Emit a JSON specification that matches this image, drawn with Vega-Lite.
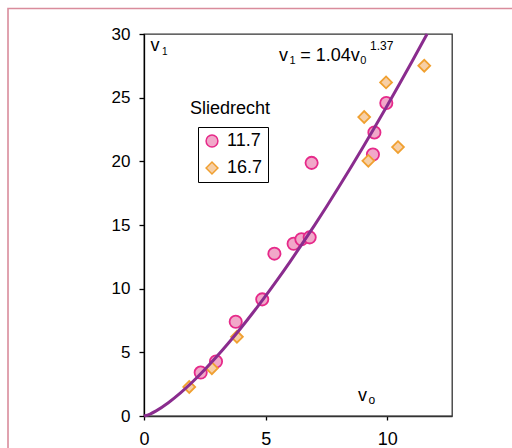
{
  "$schema": "https://vega.github.io/schema/vega-lite/v6.json",
  "width": 308,
  "height": 382,
  "autosize": {"type": "none"},
  "padding": {"left": 144, "top": 34, "right": 60, "bottom": 32},
  "background": "white",
  "config": {
    "view": {"stroke": "#333333", "strokeWidth": 1.3},
    "axis": {"labelFont": "Liberation Sans", "labelColor": "black", "domainColor": "black", "tickColor": "black", "grid": false, "title": null, "domainWidth": 1.3, "tickWidth": 1.3, "labelFlush": false},
    "legend": {"labelFont": "Liberation Sans", "labelFontSize": 18, "labelColor": "black", "strokeColor": "black", "fillColor": "white", "padding": 5, "symbolStrokeWidth": 1.5, "symbolSize": 140, "rowPadding": 9, "labelOffset": 6}
  },
  "datasets": {
    "points": [
      {"v0": 2.33, "v1": 3.41, "series": "11.7"},
      {"v0": 2.96, "v1": 4.28, "series": "11.7"},
      {"v0": 3.77, "v1": 7.40, "series": "11.7"},
      {"v0": 4.86, "v1": 9.16, "series": "11.7"},
      {"v0": 5.36, "v1": 12.75, "series": "11.7"},
      {"v0": 6.15, "v1": 13.53, "series": "11.7"},
      {"v0": 6.47, "v1": 13.88, "series": "11.7"},
      {"v0": 6.81, "v1": 14.03, "series": "11.7"},
      {"v0": 6.89, "v1": 19.88, "series": "11.7"},
      {"v0": 9.41, "v1": 20.54, "series": "11.7"},
      {"v0": 9.47, "v1": 22.27, "series": "11.7"},
      {"v0": 9.96, "v1": 24.58, "series": "11.7"},
      {"v0": 1.86, "v1": 2.28, "series": "16.7"},
      {"v0": 2.79, "v1": 3.75, "series": "16.7"},
      {"v0": 3.82, "v1": 6.22, "series": "16.7"},
      {"v0": 9.05, "v1": 23.48, "series": "16.7"},
      {"v0": 9.22, "v1": 20.04, "series": "16.7"},
      {"v0": 9.95, "v1": 26.2, "series": "16.7"},
      {"v0": 10.44, "v1": 21.12, "series": "16.7"},
      {"v0": 11.52, "v1": 27.51, "series": "16.7"}
    ],
    "curve": [
      {"v0": 0, "v1": 0},
      {"v0": 0.25, "v1": 0.156},
      {"v0": 0.5, "v1": 0.402},
      {"v0": 1, "v1": 1.04},
      {"v0": 1.5, "v1": 1.813},
      {"v0": 2, "v1": 2.688},
      {"v0": 2.5, "v1": 3.649},
      {"v0": 3, "v1": 4.685},
      {"v0": 3.5, "v1": 5.787},
      {"v0": 4, "v1": 6.948},
      {"v0": 4.5, "v1": 8.165},
      {"v0": 5, "v1": 9.432},
      {"v0": 5.5, "v1": 10.747},
      {"v0": 6, "v1": 12.109},
      {"v0": 6.5, "v1": 13.513},
      {"v0": 7, "v1": 14.957},
      {"v0": 7.5, "v1": 16.438},
      {"v0": 8, "v1": 17.959},
      {"v0": 8.5, "v1": 19.515},
      {"v0": 9, "v1": 21.104},
      {"v0": 9.5, "v1": 22.727},
      {"v0": 10, "v1": 24.381},
      {"v0": 10.5, "v1": 26.066},
      {"v0": 11, "v1": 27.781},
      {"v0": 11.5, "v1": 29.526},
      {"v0": 11.635, "v1": 30}
    ],
    "one": [{}]
  },
  "layer": [
    {
      "data": {"name": "one"},
      "mark": {"type": "rect", "fill": null, "stroke": "#d98c9c", "strokeWidth": 1.6, "clip": false},
      "encoding": {
        "x": {"datum": -5.59, "type": "quantitative", "scale": {"domain": [0, 12.66], "nice": false, "zero": false}},
        "x2": {"datum": 20},
        "y": {"datum": 32.0, "type": "quantitative", "scale": {"domain": [0, 30], "nice": false}},
        "y2": {"datum": -5}
      }
    },
    {
      "data": {"name": "points"},
      "mark": {"type": "point", "strokeWidth": 1.8, "opacity": 1, "fillOpacity": 1},
      "encoding": {
        "x": {"field": "v0", "type": "quantitative", "scale": {"domain": [0, 12.66], "nice": false, "zero": false},
              "axis": {"values": [0, 5, 10], "labelFontSize": 18, "tickSize": 4, "labelPadding": 10, "domainColor": "#333333"}},
        "y": {"field": "v1", "type": "quantitative", "scale": {"domain": [0, 30], "nice": false},
              "axis": {"values": [0, 5, 10, 15, 20, 25, 30], "labelFontSize": 17, "tickSize": 5, "labelPadding": 9}},
        "shape": {"field": "series", "type": "nominal", "title": null,
                  "scale": {"domain": ["11.7", "16.7"], "range": ["circle", "diamond"]},
                  "legend": {"orient": "none", "legendX": 54, "legendY": 93, "title": null}},
        "fill": {"field": "series", "type": "nominal", "title": null,
                 "scale": {"domain": ["11.7", "16.7"], "range": ["#f1a8c9", "#f7cfa6"]}},
        "stroke": {"field": "series", "type": "nominal", "title": null,
                   "scale": {"domain": ["11.7", "16.7"], "range": ["#e62a8a", "#f0a030"]}},
        "size": {"condition": {"test": "datum.series === '11.7'", "value": 150}, "value": 140}
      }
    },
    {
      "data": {"name": "curve"},
      "mark": {"type": "line", "color": "#8a2c8e", "strokeWidth": 3, "interpolate": "monotone"},
      "encoding": {
        "x": {"field": "v0", "type": "quantitative"},
        "y": {"field": "v1", "type": "quantitative"}
      }
    },
    {"data": {"name": "one"}, "mark": {"type": "text", "text": "v", "align": "left", "baseline": "alphabetic", "font": "Liberation Sans", "fontSize": 18, "color": "black"},
     "encoding": {"x": {"datum": 0.267, "type": "quantitative"}, "y": {"datum": 28.67, "type": "quantitative"}}},
    {"data": {"name": "one"}, "mark": {"type": "text", "text": "1", "align": "left", "baseline": "alphabetic", "font": "Liberation Sans", "fontSize": 10, "color": "black"},
     "encoding": {"x": {"datum": 0.74, "type": "quantitative"}, "y": {"datum": 28.39, "type": "quantitative"}}},
    {"data": {"name": "one"}, "mark": {"type": "text", "text": "v", "align": "left", "baseline": "alphabetic", "font": "Liberation Sans", "fontSize": 18, "color": "black"},
     "encoding": {"x": {"datum": 5.549, "type": "quantitative"}, "y": {"datum": 27.88, "type": "quantitative"}}},
    {"data": {"name": "one"}, "mark": {"type": "text", "text": "1", "align": "left", "baseline": "alphabetic", "font": "Liberation Sans", "fontSize": 11, "color": "black"},
     "encoding": {"x": {"datum": 5.98, "type": "quantitative"}, "y": {"datum": 27.68, "type": "quantitative"}}},
    {"data": {"name": "one"}, "mark": {"type": "text", "text": "= 1.04v", "align": "left", "baseline": "alphabetic", "font": "Liberation Sans", "fontSize": 18, "color": "black"},
     "encoding": {"x": {"datum": 6.42, "type": "quantitative"}, "y": {"datum": 27.88, "type": "quantitative"}}},
    {"data": {"name": "one"}, "mark": {"type": "text", "text": "0", "align": "left", "baseline": "alphabetic", "font": "Liberation Sans", "fontSize": 11, "color": "black"},
     "encoding": {"x": {"datum": 8.89, "type": "quantitative"}, "y": {"datum": 27.68, "type": "quantitative"}}},
    {"data": {"name": "one"}, "mark": {"type": "text", "text": "1.37", "align": "left", "baseline": "alphabetic", "font": "Liberation Sans", "fontSize": 12, "color": "black"},
     "encoding": {"x": {"datum": 9.289, "type": "quantitative"}, "y": {"datum": 28.78, "type": "quantitative"}}},
    {"data": {"name": "one"}, "mark": {"type": "text", "text": "Sliedrecht", "align": "left", "baseline": "alphabetic", "font": "Liberation Sans", "fontSize": 18, "color": "black"},
     "encoding": {"x": {"datum": 1.891, "type": "quantitative"}, "y": {"datum": 23.69, "type": "quantitative"}}},
    {"data": {"name": "one"}, "mark": {"type": "text", "text": "v", "align": "left", "baseline": "alphabetic", "font": "Liberation Sans", "fontSize": 18, "color": "black"},
     "encoding": {"x": {"datum": 8.8, "type": "quantitative"}, "y": {"datum": 1.139, "type": "quantitative"}}},
    {"data": {"name": "one"}, "mark": {"type": "text", "text": "o", "align": "left", "baseline": "alphabetic", "font": "Liberation Sans", "fontSize": 12, "color": "black"},
     "encoding": {"x": {"datum": 9.23, "type": "quantitative"}, "y": {"datum": 0.98, "type": "quantitative"}}}
  ]
}
